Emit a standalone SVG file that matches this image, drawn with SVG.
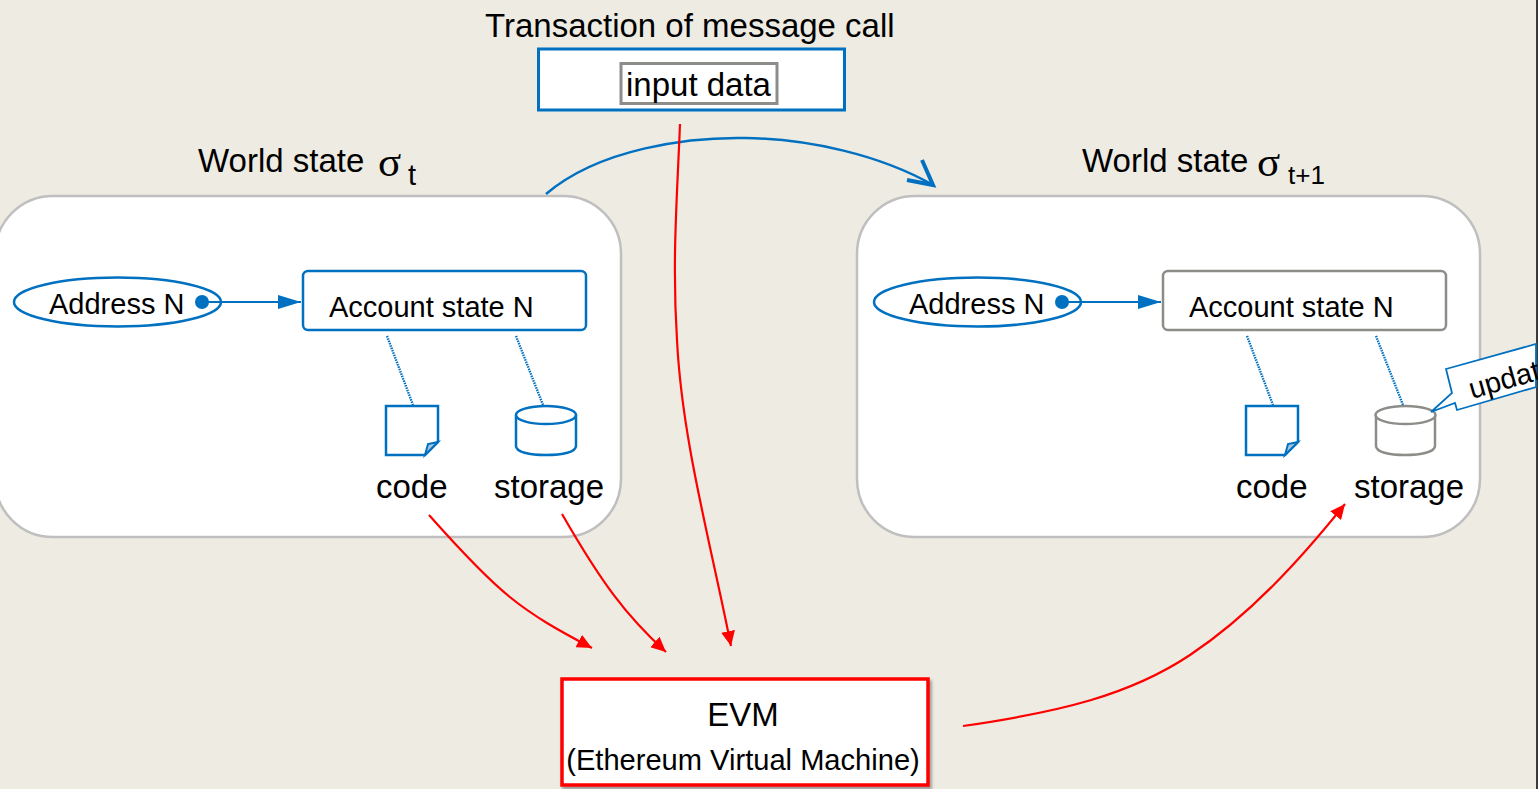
<svg xmlns="http://www.w3.org/2000/svg" width="1538" height="789" viewBox="0 0 1538 789">
<style>
text{font-family:"Liberation Sans",Arial,sans-serif;fill:#000}
.t32{font-size:33px}.t29{font-size:29px}
.sig{font-family:"Liberation Serif",serif;font-size:43px}
.panel{fill:#fff;stroke:#bfbfbf;stroke-width:2.500}
.blue{fill:#fff;stroke:#0070c0;stroke-width:2.500}
.gray{fill:#fff;stroke:#8c8c88;stroke-width:2.500}
.bl{fill:none;stroke:#0070c0;stroke-width:2.200}
.dot{fill:none;stroke:#0070c0;stroke-width:2.400;stroke-dasharray:1.500 1}
.red{fill:none;stroke:#f00;stroke-width:2.200}
</style>
<defs>
<marker id="ra" markerUnits="userSpaceOnUse" markerWidth="16" markerHeight="14" refX="15" refY="7" orient="auto"><path d="M0 0L15 7L0 14Z" fill="#f00"/></marker>
<marker id="ba" markerUnits="userSpaceOnUse" markerWidth="24" markerHeight="16" refX="23" refY="7" orient="auto"><path d="M0 0L23 7L0 14Z" fill="#0070c0"/></marker>
<filter id="sh" x="-5%" y="-10%" width="110%" height="120%"><feDropShadow dx="2" dy="3" stdDeviation="1.500" flood-color="#000" flood-opacity=".35"/></filter>
</defs>
<rect width="1538" height="789" fill="#eeebe3"/>
<rect x="1536" width="2" height="789" fill="#3a3a3a"/>
<g id="world-left">
<rect class="panel" x="-5" y="196" width="626" height="341" rx="58"/>
<text class="t32" x="198" y="172">World state</text>
<text class="sig" x="378" y="176">σ</text>
<text class="t29" x="408" y="185">t</text>
</g>
<g id="world-right">
<rect class="panel" x="857" y="196" width="623" height="341" rx="58"/>
<text class="t32" x="1082" y="172">World state</text>
<text class="sig" x="1257" y="176">σ</text>
<text x="1288" y="184" style="font-size:26px">t+1</text>
</g>
<g id="tx">
<text class="t32" x="485" y="36.500">Transaction of message call</text>
<rect class="blue" x="538.500" y="49" width="306" height="61" style="stroke-width:3"/>
<rect class="gray" x="621" y="63.500" width="156" height="40" style="stroke-width:3"/>
<text class="t32" x="626" y="96">input data</text>
</g>
<g id="addr-l">
<ellipse class="blue" cx="117.500" cy="302" rx="103.500" ry="24.500"/>
<text class="t29" x="49" y="314">Address N</text>
<circle cx="202" cy="302" r="7" fill="#0070c0"/>
</g>
<g id="acct-l">
<rect class="blue" x="303" y="271" width="283" height="59" rx="5"/>
<text class="t29" x="329" y="317">Account state N</text>
</g>
<g id="code-l">
<path class="blue" d="M386 406H438V442L425 455H386Z"/>
<path d="M425 455L428 444L438 442Z" fill="#a9c4dc" stroke="#0070c0" stroke-width="2"/>
<text class="t32" x="376" y="497.500">code</text>
</g>
<g id="storage-l">
<path class="blue" d="M516 415V446C516 452 529 455 546 455S576 452 576 446V415"/>
<ellipse class="blue" cx="546" cy="415" rx="30" ry="9"/>
<text class="t32" x="494" y="497.500">storage</text>
</g>
<g id="addr-r">
<ellipse class="blue" cx="977.500" cy="302" rx="103.500" ry="24.500"/>
<text class="t29" x="909" y="314">Address N</text>
<circle cx="1062" cy="302" r="7" fill="#0070c0"/>
</g>
<g id="acct-r">
<rect class="gray" x="1163" y="271" width="283" height="59" rx="5"/>
<text class="t29" x="1189" y="317">Account state N</text>
</g>
<g id="code-r">
<path class="blue" d="M1246 406H1298V442L1285 455H1246Z"/>
<path d="M1285 455L1288 444L1298 442Z" fill="#a9c4dc" stroke="#0070c0" stroke-width="2"/>
<text class="t32" x="1236" y="497.500">code</text>
</g>
<g id="storage-r">
<path class="gray" d="M1376 415V446C1376 452 1389 455 1405 455S1435 452 1435 446V415"/>
<ellipse class="gray" cx="1405.500" cy="415" rx="30" ry="9"/>
<text class="t32" x="1354" y="497.500">storage</text>
</g>
<g id="callout">
<path d="M1446 369L1536 344V387L1457 410L1455 403L1431 412L1452 393Z" fill="#fff" stroke="#0070c0" stroke-width="1.800"/>
<text class="t29" transform="translate(1472 399) rotate(-16)">update</text>
</g>
<g id="evm">
<rect x="562" y="679" width="366" height="106" fill="#fff" stroke="#f00" stroke-width="3.500" filter="url(#sh)"/>
<text class="t32" x="743" y="726" text-anchor="middle">EVM</text>
<text x="743" y="770" text-anchor="middle" style="font-size:29.100px">(Ethereum Virtual Machine)</text>
</g>
<g id="connectors">
<path class="bl" d="M202 302H301" marker-end="url(#ba)"/>
<path class="bl" d="M1062 302H1161" marker-end="url(#ba)"/>
<path class="dot" d="M387 336L413 405M516 336L543 405M1247 336L1273 405M1376 336L1403 405"/>
<path d="M546 194C600 148 690 137 745 138C810 139 880 155 933 185" fill="none" stroke="#0070c0" stroke-width="2.500"/>
<path d="M922 160L933 185L907 180" fill="none" stroke="#0070c0" stroke-width="4"/>
<path class="red" d="M680 124C677 200 672 260 677 340C682 440 710 540 731 646" marker-end="url(#ra)"/>
<path class="red" d="M429 515C500 595 520 610 592 648" marker-end="url(#ra)"/>
<path class="red" d="M562 514C600 580 625 615 666 652" marker-end="url(#ra)"/>
<path class="red" d="M963 726C1060 712 1130 695 1190 655C1250 615 1300 560 1345 504" marker-end="url(#ra)"/>
</g>
</svg>
